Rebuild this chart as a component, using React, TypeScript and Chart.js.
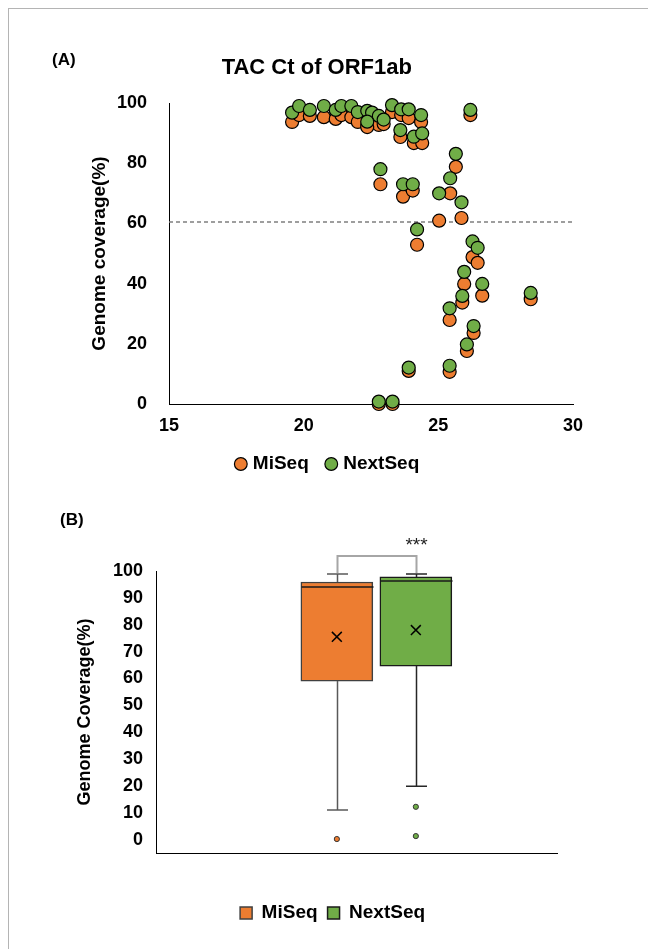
import React, { useEffect, useRef } from 'react';
import { Chart, registerables } from 'chart.js';

Chart.register(...registerables);

const FONT = "'Liberation Sans', Arial, Helvetica, sans-serif";
const ORANGE = '#ED7D31';
const GREEN = '#70AD47';

// ---------- Panel A data (TAC Ct of ORF1ab vs genome coverage) ----------
const ctValues = [
  19.57, 19.83, 20.23, 20.75, 21.19, 21.4, 21.77, 22.01, 22.36, 22.54,
  22.79, 22.97, 22.36, 23.28, 23.62, 23.9, 24.36, 23.59, 24.09, 24.4,
  26.19, 22.85, 23.69, 24.05, 25.03, 25.65, 25.44, 25.86, 24.21, 26.27,
  26.46, 25.96, 26.63, 28.43, 25.89, 25.42, 26.31, 26.06, 23.9, 25.42,
  22.79, 23.3,
];
const miseqCoverage = [
  93.7, 96.0, 95.7, 95.3, 94.7, 96.0, 95.3, 93.7, 92.7, 94.5,
  92.7, 93.0, 92.0, 97.0, 96.0, 95.0, 93.7, 88.7, 86.7, 86.7,
  96.0, 73.0, 68.9, 70.9, 60.9, 78.8, 70.0, 61.8, 52.9, 48.8,
  46.9, 39.9, 36.0, 34.8, 33.7, 27.9, 23.6, 17.6, 11.0, 10.7,
  0.0, 0.0,
];
const nextseqCoverage = [
  96.8, 99.0, 97.7, 99.0, 97.7, 99.0, 99.0, 97.0, 97.4, 96.8,
  95.7, 94.5, 93.8, 99.3, 97.9, 97.9, 96.0, 91.0, 88.8, 89.9,
  97.7, 78.0, 73.0, 73.0, 70.0, 83.1, 75.0, 67.0, 58.0, 54.0,
  51.9, 43.9, 39.9, 36.9, 35.9, 31.8, 25.9, 19.8, 12.1, 12.7,
  0.8, 0.8,
];
const coverageThreshold = 60.5;
const xTicksA = [15, 20, 25, 30];
const yTicksA = [0, 20, 40, 60, 80, 100];

// ---------- Panel B data (box plot summary) ----------
const boxLabels = ['MiSeq', 'NextSeq'];
const boxSlots = [45.1, 64.8];
const boxMin = [11.0, 19.9];
const boxQ1 = [59.0, 64.6];
const boxMedian = [94.0, 96.3];
const boxQ3 = [95.9, 97.8];
const boxMax = [98.9, 98.9];
const boxMean = [75.5, 78.0];
const boxOutliers = [[0.2], [12.2, 1.3]];
const yTicksB = [0, 10, 20, 30, 40, 50, 60, 70, 80, 90, 100];
const significance = '***';
const bracketLevel = 105.6;
const starLevel = 109.3;

const tickFont = { family: FONT, size: 18, weight: 'bold' as const };

function shiftPlugin(id: string, titleDx: number, legendDx: number) {
  return {
    id,
    afterLayout(chart: any) {
      const t = chart.titleBlock;
      if (t && titleDx) {
        t.left += titleDx;
        t.right += titleDx;
      }
      const l = chart.legend;
      if (l && legendDx) {
        l.left += legendDx;
        l.right += legendDx;
      }
    },
  };
}

function panelLabel(id: string, text: string, x: number, y: number) {
  return {
    id,
    afterDraw(chart: any) {
      const ctx = chart.ctx;
      ctx.save();
      ctx.font = `bold 17px ${FONT}`;
      ctx.fillStyle = '#000';
      ctx.textAlign = 'left';
      ctx.textBaseline = 'middle';
      ctx.fillText(text, x, y);
      ctx.restore();
    },
  };
}

function ScatterPanel() {
  const ref = useRef<HTMLCanvasElement>(null);
  useEffect(() => {
    const chart = new Chart(ref.current as HTMLCanvasElement, {
      type: 'scatter',
      data: {
        datasets: [
          {
            label: 'MiSeq',
            data: ctValues.map((x, i) => ({ x, y: miseqCoverage[i] })),
            backgroundColor: ORANGE,
            borderColor: '#000',
            borderWidth: 1.2,
            pointRadius: 6.5,
            pointHoverRadius: 6.5,
            order: 1,
            clip: false,
          } as any,
          {
            label: 'NextSeq',
            data: ctValues.map((x, i) => ({ x, y: nextseqCoverage[i] })),
            backgroundColor: GREEN,
            borderColor: '#000',
            borderWidth: 1.2,
            pointRadius: 6.5,
            pointHoverRadius: 6.5,
            order: 0,
            clip: false,
          } as any,
          {
            type: 'line',
            label: 'threshold',
            data: [
              { x: xTicksA[0], y: coverageThreshold },
              { x: xTicksA[xTicksA.length - 1], y: coverageThreshold },
            ],
            borderColor: '#7f7f7f',
            borderDash: [4, 3],
            borderWidth: 1.5,
            pointRadius: 0,
            order: 2,
            clip: false,
          } as any,
        ],
      },
      options: {
        responsive: false,
        animation: false,
        events: [],
        layout: { padding: { left: 79.6, right: 80, top: 10, bottom: 6.5 } },
        plugins: {
          title: {
            display: true,
            text: 'TAC Ct of ORF1ab',
            color: '#000',
            font: { family: FONT, size: 22, weight: 'bold' },
            padding: { top: 35.8, bottom: 21.8 },
          },
          legend: {
            position: 'bottom',
            labels: {
              usePointStyle: true,
              pointStyle: 'circle',
              boxWidth: 5,
              boxHeight: 9,
              padding: 20,
              color: '#000',
              font: { family: FONT, size: 19, weight: 'bold' },
              filter: (item: any) => item.datasetIndex < 2,
              sort: (a: any, b: any) => a.datasetIndex - b.datasetIndex,
            },
          },
          tooltip: { enabled: false },
        },
        scales: {
          x: {
            type: 'linear',
            min: xTicksA[0],
            max: xTicksA[xTicksA.length - 1],
            afterBuildTicks: (s: any) => {
              s.ticks = xTicksA.map((v) => ({ value: v }));
            },
            ticks: { color: '#000', font: tickFont, padding: 11 },
            grid: { display: false, drawTicks: false },
            border: { display: true, color: '#000', width: 1 },
            afterFit: (s: any) => {
              s.height = 30.5;
            },
          },
          y: {
            type: 'linear',
            min: yTicksA[0],
            max: yTicksA[yTicksA.length - 1],
            afterBuildTicks: (s: any) => {
              s.ticks = yTicksA.map((v) => ({ value: v }));
            },
            ticks: { color: '#000', font: tickFont, padding: 22 },
            grid: { display: false, drawTicks: false },
            border: { display: true, color: '#000', width: 1 },
            title: {
              display: true,
              text: 'Genome coverage(%)',
              color: '#000',
              font: { family: FONT, size: 19, weight: 'bold' },
              padding: { top: 0, bottom: 0 },
            },
            afterFit: (s: any) => {
              s.width = 80.4;
            },
          },
        },
      } as any,
      plugins: [shiftPlugin('shiftA', -14, -2), panelLabel('labelA', '(A)', 43, 51)],
    });
    return () => chart.destroy();
  }, []);
  return (
    <canvas
      ref={ref}
      width={644}
      height={481}
      style={{ position: 'absolute', left: 0, top: 0, width: 644, height: 481 }}
    />
  );
}

const boxDecorations = {
  id: 'boxDecorations',
  afterDatasetsDraw(chart: any) {
    const { ctx, scales } = chart;
    const xs = scales.x;
    const ys = scales.y;
    const half = 36;
    const capHalf = 10.5;
    const whiskerColors = ['#595959', '#262626'];
    ctx.save();
    boxSlots.forEach((slot, i) => {
      const xc = Math.round(xs.getPixelForValue(slot)) + 0.5;
      ctx.strokeStyle = whiskerColors[i];
      ctx.lineWidth = 1.5;
      ctx.beginPath();
      ctx.moveTo(xc, ys.getPixelForValue(boxQ3[i]));
      ctx.lineTo(xc, ys.getPixelForValue(boxMax[i]));
      ctx.moveTo(xc, ys.getPixelForValue(boxQ1[i]));
      ctx.lineTo(xc, ys.getPixelForValue(boxMin[i]));
      ctx.moveTo(xc - capHalf, ys.getPixelForValue(boxMax[i]));
      ctx.lineTo(xc + capHalf, ys.getPixelForValue(boxMax[i]));
      ctx.moveTo(xc - capHalf, ys.getPixelForValue(boxMin[i]));
      ctx.lineTo(xc + capHalf, ys.getPixelForValue(boxMin[i]));
      ctx.stroke();
      ctx.strokeStyle = '#1a1a1a';
      ctx.lineWidth = 1.5;
      ctx.beginPath();
      const ym = ys.getPixelForValue(boxMedian[i]);
      ctx.moveTo(xc - half, ym);
      ctx.lineTo(xc + half, ym);
      ctx.stroke();
    });
    // significance bracket
    const x0 = Math.round(xs.getPixelForValue(boxSlots[0])) + 0.5;
    const x1 = Math.round(xs.getPixelForValue(boxSlots[1])) + 0.5;
    const yb = ys.getPixelForValue(bracketLevel);
    ctx.strokeStyle = '#a6a6a6';
    ctx.lineWidth = 2;
    ctx.beginPath();
    ctx.moveTo(x0, ys.getPixelForValue(boxMax[0]) - 1);
    ctx.lineTo(x0, yb);
    ctx.lineTo(x1, yb);
    ctx.lineTo(x1, ys.getPixelForValue(boxMax[1]) - 1);
    ctx.stroke();
    ctx.fillStyle = '#222';
    ctx.font = `19px ${FONT}`;
    ctx.textAlign = 'center';
    ctx.textBaseline = 'middle';
    ctx.fillText(significance, x1, ys.getPixelForValue(starLevel));
    ctx.restore();
  },
};

function BoxPanel() {
  const ref = useRef<HTMLCanvasElement>(null);
  useEffect(() => {
    const colors = [ORANGE, GREEN];
    const chart = new Chart(ref.current as HTMLCanvasElement, {
      type: 'bar',
      data: {
        datasets: [
          ...boxLabels.map((label, i) => ({
            type: 'bar',
            label,
            data: [{ x: boxSlots[i], y: [boxQ1[i], boxQ3[i]] }],
            backgroundColor: colors[i],
            borderColor: i === 0 ? '#404040' : '#1a1a1a',
            borderWidth: 1.5,
            borderSkipped: false,
            barThickness: 72,
            grouped: false,
            order: 2,
          })),
          {
            type: 'scatter',
            label: 'mean',
            data: boxSlots.map((x, i) => ({ x, y: boxMean[i] })),
            pointStyle: 'crossRot',
            pointRadius: 7,
            pointHoverRadius: 7,
            borderColor: '#000',
            backgroundColor: '#000',
            borderWidth: 1.5,
            order: 0,
          },
          ...boxLabels.map((label, i) => ({
            type: 'scatter',
            label: label + ' outliers',
            data: boxOutliers[i].map((y) => ({ x: boxSlots[i], y })),
            backgroundColor: colors[i],
            borderColor: '#333',
            borderWidth: 1,
            pointRadius: 2.6,
            pointHoverRadius: 2.6,
            order: 0,
            clip: false,
          })),
        ] as any,
      },
      options: {
        responsive: false,
        animation: false,
        events: [],
        layout: { padding: { left: 65.2, right: 96, top: 81, bottom: 8.5 } },
        plugins: {
          title: { display: false },
          legend: {
            position: 'bottom',
            labels: {
              boxWidth: 12,
              boxHeight: 12,
              padding: 10,
              color: '#000',
              font: { family: FONT, size: 19, weight: 'bold' },
              filter: (item: any) => item.datasetIndex < 2,
              sort: (a: any, b: any) => a.datasetIndex - b.datasetIndex,
            },
          },
          tooltip: { enabled: false },
        },
        scales: {
          x: {
            type: 'linear',
            min: 0,
            max: 100,
            offset: false,
            ticks: { display: false },
            grid: { display: false, drawTicks: false },
            border: { display: true, color: '#000', width: 1 },
            afterFit: (s: any) => {
              s.height = 40.5;
            },
          },
          y: {
            type: 'linear',
            min: -5,
            max: 100,
            afterBuildTicks: (s: any) => {
              s.ticks = yTicksB.map((v) => ({ value: v }));
            },
            ticks: { color: '#000', font: tickFont, padding: 13 },
            grid: { display: false, drawTicks: false },
            border: { display: true, color: '#000', width: 1 },
            title: {
              display: true,
              text: 'Genome Coverage(%)',
              color: '#000',
              font: { family: FONT, size: 18, weight: 'bold' },
              padding: { top: 0, bottom: 0 },
            },
            afterFit: (s: any) => {
              s.width = 81.8;
            },
          },
        },
      } as any,
      plugins: [boxDecorations, shiftPlugin('shiftB', 0, 17), panelLabel('labelB', '(B)', 51, 30)],
    });
    return () => chart.destroy();
  }, []);
  return (
    <canvas
      ref={ref}
      width={644}
      height={451}
      style={{ position: 'absolute', left: 0, top: 481, width: 644, height: 451 }}
    />
  );
}

export default function App() {
  return (
    <div
      style={{
        position: 'fixed',
        left: 8,
        top: 8,
        width: 640,
        height: 941,
        boxSizing: 'border-box',
        borderTop: '1px solid #b4b4b4',
        borderLeft: '1px solid #b4b4b4',
        overflow: 'hidden',
        background: '#fff',
      }}
    >
      <ScatterPanel />
      <BoxPanel />
    </div>
  );
}
